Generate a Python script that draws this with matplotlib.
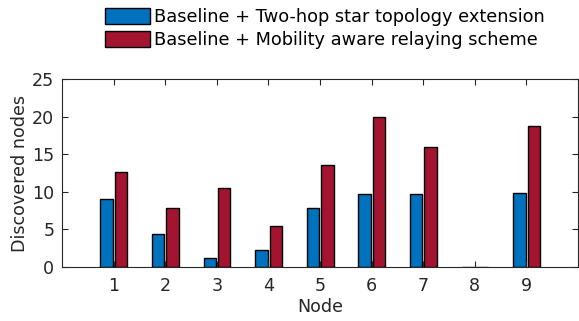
import numpy as np
import matplotlib

matplotlib.use("Agg")
from matplotlib import pyplot as plt

nodes = [1, 2, 3, 4, 5, 6, 7, 8, 9]
two_hop = [9.1, 4.45, 1.25, 2.3, 7.8, 9.7, 9.65, 0.0, 9.9]
mobility = [12.6, 7.8, 10.5, 5.45, 13.6, 20.0, 16.0, 0.0, 18.7]
labels = ["Baseline + Two-hop star topology extension",
          "Baseline + Mobility aware relaying scheme"]

plt.rcParams['font.family'] = 'DejaVu Sans'
plt.rcParams['font.size'] = 12.6

fig = plt.figure(figsize=(5.79, 3.21), dpi=100)
ax = fig.add_axes([62 / 579, 54 / 321, 516 / 579, 188 / 321])

x = np.array(nodes)
w = 0.24
ax.bar(x - 0.135, two_hop, w, color='#0072BD', edgecolor='black',
       linewidth=1, label=labels[0])
ax.bar(x + 0.145, mobility, w, color='#A2142F', edgecolor='black',
       linewidth=1, label=labels[1])

ax.set_xlim(0, 10)
ax.set_ylim(0, 25)
ax.set_xticks(nodes)
ax.set_yticks([0, 5, 10, 15, 20, 25])
ax.tick_params(direction='in', top=True, right=True, length=4,
               colors='#262626', labelsize=12.6)
ax.tick_params(axis='x', pad=7.5)
ax.tick_params(axis='y', pad=5.5)
for s in ax.spines.values():
    s.set_color('#262626')
    s.set_linewidth(0.8)
ax.set_xlabel('Node', color='#262626', labelpad=2)
ax.set_ylabel('Discovered nodes', color='#262626', labelpad=2)

fig.legend(loc='upper left', bbox_to_anchor=(105 / 579, 1 - 8 / 321),
           frameon=False, borderpad=0, borderaxespad=0,
           handlelength=2.55, handleheight=1.05, handletextpad=0.2,
           labelspacing=0.25, fontsize=12.8)

fig.savefig('out.png', dpi=100)
